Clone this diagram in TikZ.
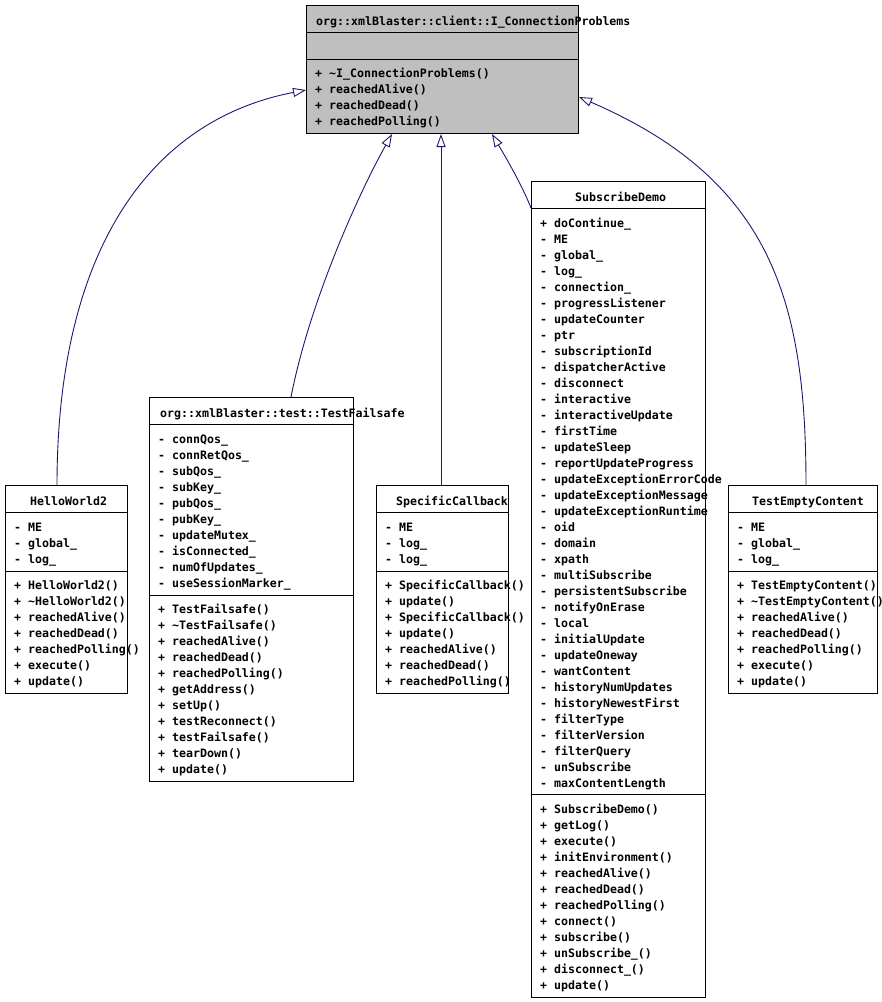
\documentclass[tikz,border=0pt]{standalone}
\usepackage{fontspec}
\newfontfamily\umlfont{DejaVu Sans Mono}
\usetikzlibrary{arrows.meta,calc}
\definecolor{edgeblue}{HTML}{191970}
\definecolor{ifacegray}{HTML}{BFBFBF}
\tikzset{
  classbox/.style={draw=black, line width=1pt, fill=white, inner sep=0pt, anchor=north west},
  member/.style={anchor=base west, inner sep=0pt, font=\umlfont\fontsize{11.6}{14}\selectfont\bfseries},
  inherit/.style={draw=edgeblue, line width=0.9pt, -{Triangle[open, length=13pt, width=9pt]}},
}

\begin{document}
\begin{tikzpicture}[x=1pt, y=-1pt]
                \useasboundingbox (0,0) rectangle (882,1002);

                % class boxes
                \node[classbox, fill=ifacegray, minimum width=272, minimum height=128] (iface) at (306,5) {};
                \node[classbox, minimum width=122, minimum height=208] (hello) at (5,485) {};
                \node[classbox, minimum width=204, minimum height=384] (fail) at (149,397) {};
                \node[classbox, minimum width=132, minimum height=208] (spec) at (376,485) {};
                \node[classbox, minimum width=174, minimum height=816] (sub) at (531,181) {};
                \node[classbox, minimum width=149, minimum height=208] (tec) at (728,485) {};

                % compartment lines
                \foreach \b/\d in {iface/27, iface/54, hello/27, hello/86, fail/27, fail/198,
                                   spec/27, spec/86, sub/27, sub/613, tec/27, tec/86}
                    \draw[line width=1pt] ($(\b.north west)+(0,\d)$) -- ($(\b.north east)+(0,\d)$);

                % inheritance
                \draw[inherit] ($(hello.north west)+(52,0)$) .. controls +(0,-235) and +(-156,30) .. ($(iface.north west)+(0,85)$);
                \draw[inherit] ($(fail.north west)+(142,0)$) .. controls +(19,-97) and +(-32,57) .. ($(iface.south west)+(86,0)$);
                \draw[inherit] ($(spec.north west)+(65,0)$) -- ($(iface.south west)+(135,0)$);
                \draw[inherit] ($(sub.north west)+(0,27)$) .. controls +(-9,-23) and +(13,22) .. ($(iface.south west)+(186,0)$);
                \draw[inherit] ($(tec.north west)+(78,0)$) .. controls +(0,-185) and +(192,83) .. ($(iface.north east)+(0,92)$);

                % I_ConnectionProblems
                \node[member] (iface-t) at (316,25) {org::xmlBlaster::client::I\_ConnectionProblems};
                \foreach \t [count=\i from 0] in {\textasciitilde I\_ConnectionProblems(), reachedAlive(), reachedDead(), reachedPolling()}
                    \node[member] (iface-m\i) at (315,{77+16*\i}) {+ \t};

                % HelloWorld2
                \node[member] (hello-t) at (30,505) {HelloWorld2};
                \foreach \t [count=\i from 0] in {ME, global\_, log\_}
                    \node[member] (hello-a\i) at (14,{531+16*\i}) {- \t};
                \foreach \t [count=\i from 0] in {HelloWorld2(), \textasciitilde HelloWorld2(), reachedAlive(), reachedDead(),
                                                  reachedPolling(), execute(), update()}
                    \node[member] (hello-m\i) at (14,{589+16*\i}) {+ \t};

                % TestFailsafe
                \node[member] (fail-t) at (160,417) {org::xmlBlaster::test::TestFailsafe};
                \foreach \t [count=\i from 0] in {connQos\_, connRetQos\_, subQos\_, subKey\_, pubQos\_, pubKey\_,
                                                  updateMutex\_, isConnected\_, numOfUpdates\_, useSessionMarker\_}
                    \node[member] (fail-a\i) at (158,{443+16*\i}) {- \t};
                \foreach \t [count=\i from 0] in {TestFailsafe(), \textasciitilde TestFailsafe(), reachedAlive(), reachedDead(),
                                                  reachedPolling(), getAddress(), setUp(), testReconnect(),
                                                  testFailsafe(), tearDown(), update()}
                    \node[member] (fail-m\i) at (158,{613+16*\i}) {+ \t};

                % SpecificCallback
                \node[member] (spec-t) at (396,505) {SpecificCallback};
                \foreach \t [count=\i from 0] in {ME, log\_, log\_}
                    \node[member] (spec-a\i) at (385,{531+16*\i}) {- \t};
                \foreach \t [count=\i from 0] in {SpecificCallback(), update(), SpecificCallback(), update(),
                                                  reachedAlive(), reachedDead(), reachedPolling()}
                    \node[member] (spec-m\i) at (385,{589+16*\i}) {+ \t};

                % SubscribeDemo
                \node[member] (sub-t) at (575,201) {SubscribeDemo};
                \node[member] (sub-a0) at (540,227) {+ doContinue\_};
                \foreach \t [count=\i from 1] in {ME, global\_, log\_, connection\_, progressListener, updateCounter,
                                                  ptr, subscriptionId, dispatcherActive, disconnect, interactive,
                                                  interactiveUpdate, firstTime, updateSleep, reportUpdateProgress,
                                                  updateExceptionErrorCode, updateExceptionMessage,
                                                  updateExceptionRuntime, oid, domain, xpath, multiSubscribe,
                                                  persistentSubscribe, notifyOnErase, local, initialUpdate,
                                                  updateOneway, wantContent, historyNumUpdates, historyNewestFirst,
                                                  filterType, filterVersion, filterQuery, unSubscribe, maxContentLength}
                    \node[member] (sub-a\i) at (540,{227+16*\i}) {- \t};
                \foreach \t [count=\i from 0] in {SubscribeDemo(), getLog(), execute(), initEnvironment(),
                                                  reachedAlive(), reachedDead(), reachedPolling(), connect(),
                                                  subscribe(), unSubscribe\_(), disconnect\_(), update()}
                    \node[member] (sub-m\i) at (540,{813+16*\i}) {+ \t};

                % TestEmptyContent
                \node[member] (tec-t) at (752,505) {TestEmptyContent};
                \foreach \t [count=\i from 0] in {ME, global\_, log\_}
                    \node[member] (tec-a\i) at (737,{531+16*\i}) {- \t};
                \foreach \t [count=\i from 0] in {TestEmptyContent(), \textasciitilde TestEmptyContent(), reachedAlive(), reachedDead(),
                                                  reachedPolling(), execute(), update()}
                    \node[member] (tec-m\i) at (737,{589+16*\i}) {+ \t};
\end{tikzpicture}
\end{document}
